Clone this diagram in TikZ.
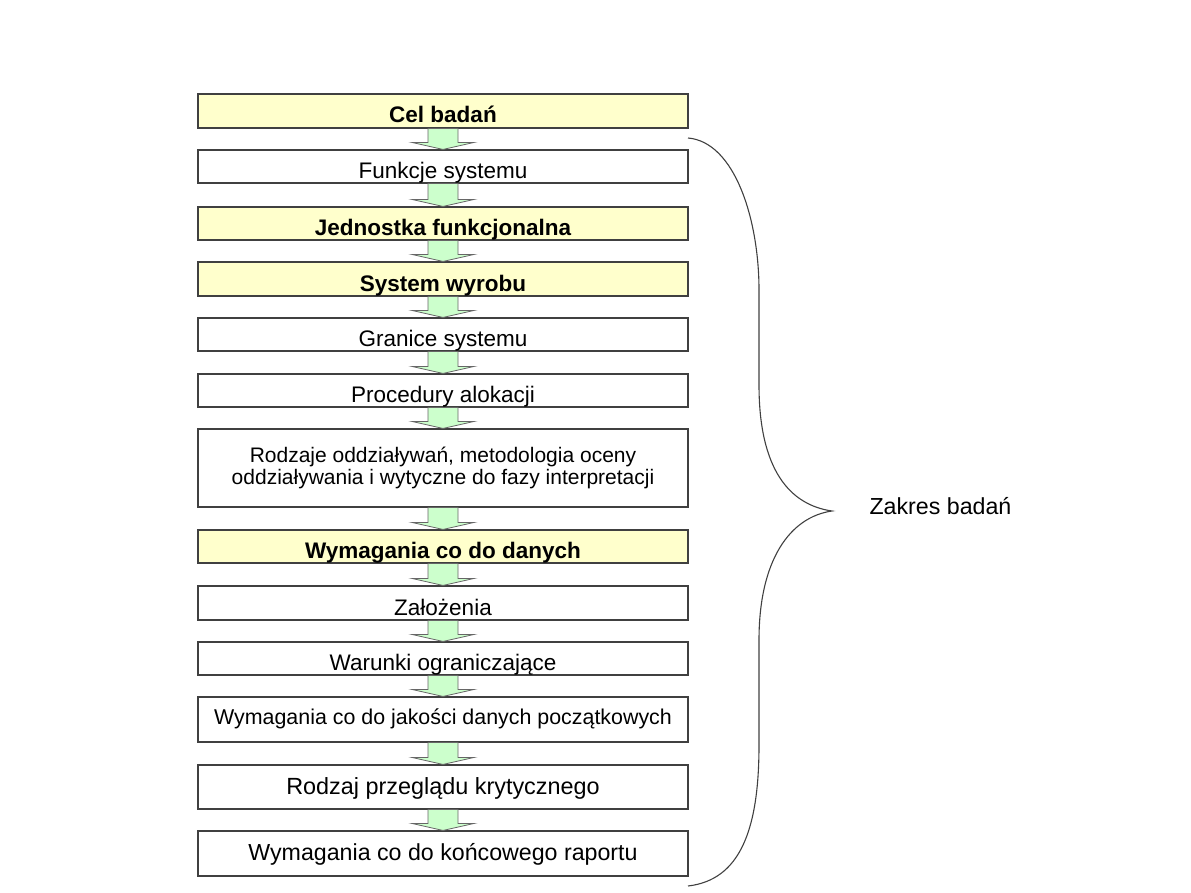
\documentclass[tikz,border=0pt]{standalone}
\usepackage{fontspec}
\setmainfont{Liberation Sans}
\usetikzlibrary{calc}
\definecolor{boxyellow}{HTML}{FFFFCC}
\definecolor{arrowgreen}{HTML}{CCFFCC}
\definecolor{edge}{HTML}{404040}
\begin{document}
\begin{tikzpicture}[x=1pt,y=-1pt,
  boxbase/.style={draw=edge, line width=1.1pt, fill=white, minimum width=490pt,
    minimum height=33pt, inner sep=0pt, font=\fontsize{22.5}{27}\selectfont},
  box/.style={boxbase, text height=24pt, text depth=0pt},
  key/.style={box, fill=boxyellow, font=\fontsize{22.5}{27}\selectfont\bfseries},
  flow/.style={fill=arrowgreen, draw=edge!80, line width=0.8pt, line join=miter},
  brace/.style={draw=edge, line width=1.1pt},
  side/.style={anchor=base west, font=\fontsize{23.2}{28}\selectfont}
]
\useasboundingbox (0,0) rectangle (1191,893);

\node[key, minimum height=34pt] (b1) at (443,111) {Cel badań};
\node[box] (b2) at (443,166.5) {Funkcje systemu};
\node[key] (b3) at (443,223.5) {Jednostka funkcjonalna};
\node[key, minimum height=34pt] (b4) at (443,279) {System wyrobu};
\node[box] (b5) at (443,334.5) {Granice systemu};
\node[box] (b6) at (443,390.5) {Procedury alokacji};
\node[boxbase, minimum height=78pt, align=center, font=\fontsize{21}{22.5}\selectfont] (b7) at (443,468)
  {Rodzaje oddziaływań, metodologia oceny\\oddziaływania i wytyczne do fazy interpretacji};
\node[key] (b8) at (443,546.5) {Wymagania co do danych};
\node[box, minimum height=34pt] (b9) at (443,603) {Założenia};
\node[box] (b10) at (443,658.5) {Warunki ograniczające};
\node[box, minimum height=45pt, text height=9pt, font=\fontsize{21.4}{26}\selectfont] (b11) at (443,719.5)
  {Wymagania co do jakości danych początkowych};
\node[box, minimum height=44pt, text height=14pt, font=\fontsize{23.4}{28}\selectfont] (b12) at (443,787)
  {Rodzaj przeglądu krytycznego};
\node[box, minimum height=45pt, text height=13pt, font=\fontsize{23.2}{28}\selectfont] (b13) at (443,853.5)
  {Wymagania co do końcowego raportu};

\foreach \a/\b in {b1/b2,b2/b3,b3/b4,b4/b5,b5/b6,b6/b7,b7/b8,b8/b9,b9/b10,b10/b11,b11/b12,b12/b13}{
  \draw[flow] let \p1=(\a.south), \p2=(\b.north) in
    (\x1-15pt,\y1) -- (\x1-15pt,\y2+7pt) -- (\x1-31pt,\y2+7pt) -- (\x1,\y2)
    -- (\x1+31pt,\y2+7pt) -- (\x1+15pt,\y2+7pt) -- (\x1+15pt,\y1) -- cycle;
}

\coordinate (bt) at (688,138);
\coordinate (tip) at (832,511);
\coordinate (bb) at (688,886);
\draw[brace] (bt) .. controls (735,142) and (759,220) .. (759,290)
  -- (759,385) .. controls (759,470) and (790,505) .. (tip)
  .. controls (790,517) and (759,560) .. (759,640)
  -- (759,745) .. controls (759,830) and (740,880) .. (bb);

\node[side] (zb) at (866,514.3) {Zakres badań};
\end{tikzpicture}
\end{document}
